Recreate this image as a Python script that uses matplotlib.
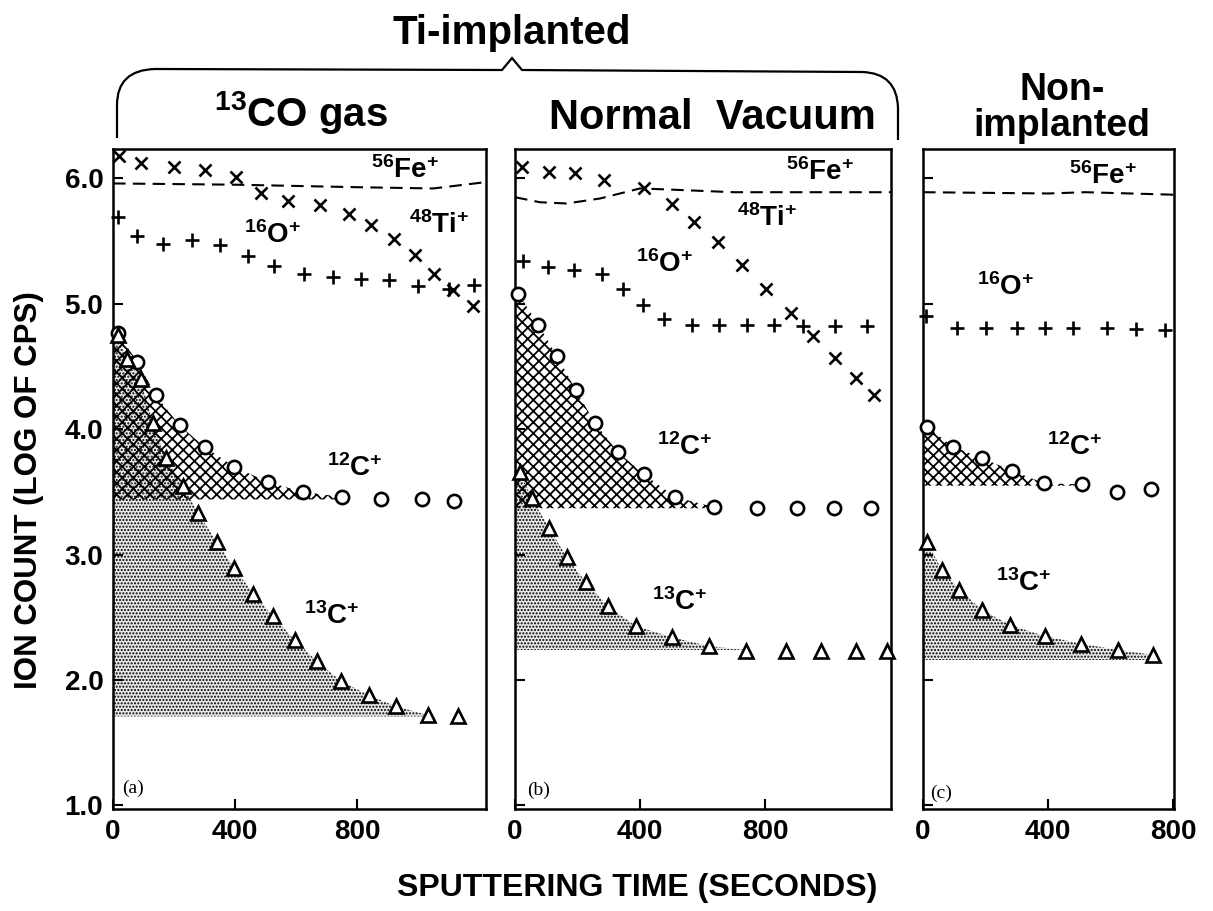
import matplotlib
matplotlib.use('Agg')
import matplotlib.pyplot as plt
from matplotlib.path import Path
from matplotlib.patches import PathPatch
import numpy as np

# values: time in seconds, ion count as log10(cps)

# (a) Ti-implanted, 13CO gas
ti_a_t = [20, 92, 200, 302, 403, 485, 573, 680, 775, 846, 922, 991, 1053, 1114, 1180]
ti_a_v = [6.18, 6.12, 6.09, 6.07, 6.01, 5.88, 5.82, 5.79, 5.72, 5.63, 5.52, 5.39, 5.24, 5.11, 4.98]
o_a_t = [15, 79, 165, 258, 352, 442, 529, 625, 720, 813, 906, 1001, 1103, 1184]
o_a_v = [5.69, 5.54, 5.48, 5.51, 5.47, 5.38, 5.30, 5.24, 5.21, 5.20, 5.19, 5.14, 5.12, 5.15]
c12_a_t = [15, 79, 141, 218, 300, 398, 507, 622, 750, 879, 1013, 1118]
c12_a_v = [4.77, 4.54, 4.27, 4.03, 3.86, 3.70, 3.58, 3.50, 3.46, 3.44, 3.44, 3.43]
c13_a_t = [15, 45, 90, 130, 175, 228, 279, 341, 398, 460, 524, 595, 669, 748, 838, 928, 1032, 1132]
c13_a_v = [4.75, 4.56, 4.40, 4.05, 3.77, 3.55, 3.33, 3.10, 2.89, 2.69, 2.51, 2.32, 2.15, 1.99, 1.88, 1.79, 1.72, 1.71]
fe_a_t = [0, 400, 800, 1050, 1220]
fe_a_v = [5.96, 5.95, 5.93, 5.92, 5.97]

# (b) Ti-implanted, normal vacuum
ti_b_t = [21, 110, 192, 285, 411, 501, 573, 648, 727, 802, 882, 953, 1024, 1091, 1149]
ti_b_v = [6.09, 6.05, 6.04, 5.99, 5.92, 5.80, 5.65, 5.49, 5.31, 5.12, 4.93, 4.74, 4.57, 4.41, 4.27]
o_b_t = [27, 107, 189, 277, 345, 409, 477, 565, 654, 741, 829, 921, 1024, 1125]
o_b_v = [5.34, 5.29, 5.27, 5.24, 5.12, 4.99, 4.88, 4.83, 4.83, 4.83, 4.83, 4.82, 4.82, 4.82]
c12_b_t = [11, 75, 135, 195, 256, 328, 413, 512, 635, 774, 902, 1019, 1139]
c12_b_v = [5.08, 4.83, 4.58, 4.31, 4.05, 3.82, 3.64, 3.46, 3.38, 3.37, 3.37, 3.37, 3.37]
c13_b_t = [16, 53, 110, 165, 227, 296, 387, 503, 622, 739, 867, 978, 1090, 1189]
c13_b_v = [3.66, 3.45, 3.21, 2.98, 2.78, 2.59, 2.43, 2.34, 2.27, 2.23, 2.23, 2.23, 2.23, 2.23]
fe_b_t = [0, 80, 165, 272, 400, 506, 700, 1203]
fe_b_v = [5.85, 5.81, 5.80, 5.84, 5.92, 5.91, 5.89, 5.89]

# (c) non-implanted
o_c_t = [10, 110, 202, 300, 390, 479, 590, 682, 774]
o_c_v = [4.90, 4.81, 4.81, 4.81, 4.81, 4.81, 4.81, 4.80, 4.79]
c12_c_t = [12, 97, 188, 284, 387, 508, 620, 729]
c12_c_v = [4.02, 3.86, 3.77, 3.67, 3.57, 3.56, 3.50, 3.52]
c13_c_t = [12, 60, 116, 188, 278, 390, 505, 625, 737]
c13_c_v = [3.10, 2.88, 2.72, 2.56, 2.44, 2.35, 2.29, 2.24, 2.20]
fe_c_t = [0, 400, 520, 803]
fe_c_v = [5.89, 5.88, 5.89, 5.87]

# background levels under the shaded areas
base12 = {'a': 3.44, 'b': 3.37, 'c': 3.55}
base13 = {'a': 1.71, 'b': 2.24, 'c': 2.16}

plt.rcParams['font.family'] = ['Liberation Sans', 'DejaVu Sans']
plt.rcParams['font.weight'] = 'bold'
plt.rcParams['mathtext.fontset'] = 'custom'
plt.rcParams['mathtext.rm'] = 'Liberation Sans:bold'
plt.rcParams['mathtext.it'] = 'Liberation Sans:bold'
plt.rcParams['mathtext.bf'] = 'Liberation Sans:bold'
plt.rcParams['mathtext.default'] = 'rm'

YLIM = (0.972, 6.235)
LBL = 20
STIPPLE = '#e8e8e8'


def shade(ax, t, v, base, n, hatch, lw, face='none'):
    """
    Shade between a profile (first n points) and its background level
    """
    tt = np.r_[0, t[:n]]
    vv = np.maximum(np.r_[v[0], v[:n]], base)
    with plt.rc_context({'hatch.linewidth': lw}):
        ax.fill_between(tt, vv, base, facecolor=face, edgecolor='black',
                        linewidth=0, hatch=hatch, zorder=1)


def points(ax, t, v, marker, ms):
    ax.plot(t, v, ls='none', marker=marker, ms=ms, mew=1.9, color='black',
            mfc='white', clip_on=False, zorder=3)


def setup(ax, xmax, letter, lt, lv, left_labels):
    ax.set_xlim(0, xmax)
    ax.set_ylim(*YLIM)
    ax.set_xticks([0, 400, 800])
    ax.set_yticks([1, 2, 3, 4, 5, 6])
    ax.set_yticklabels(['1.0', '2.0', '3.0', '4.0', '5.0', '6.0'])
    ax.tick_params(direction='in', length=7, width=1.5, labelsize=20,
                   pad=7, labelleft=left_labels)
    for s in ax.spines.values():
        s.set_linewidth(1.8)
    ax.text(lt, lv, '(' + letter + ')', family='Liberation Serif',
            fontweight='normal', fontsize=14, va='center')


fig = plt.figure(figsize=(12.13, 9.11), dpi=100)
bot, h = 0.112, 0.7245
ax_a = fig.add_axes([0.0932, bot, 0.3075, h])
ax_b = fig.add_axes([0.4246, bot, 0.310, h])
ax_c = fig.add_axes([0.761, bot, 0.2069, h])

# panel (a)
shade(ax_a, c13_a_t, c13_a_v, base13['a'], 17, '.....', 1.0, STIPPLE)
shade(ax_a, c12_a_t, c12_a_v, base12['a'], 9, 'xxx', 1.3)
ax_a.plot(fe_a_t, fe_a_v, ls=(0, (6, 3.5)), lw=1.5, color='black', zorder=2)
points(ax_a, ti_a_t, ti_a_v, 'x', 9)
points(ax_a, o_a_t, o_a_v, '+', 10)
points(ax_a, c12_a_t, c12_a_v, 'o', 9.5)
points(ax_a, c13_a_t, c13_a_v, '^', 9.5)
setup(ax_a, 1223, 'a', 30, 1.14, True)
ax_a.text(845, 6.07, r'$^{56}$Fe$^{+}$', fontsize=LBL, va='center')
ax_a.text(970, 5.63, r'$^{48}$Ti$^{+}$', fontsize=LBL, va='center')
ax_a.text(430, 5.55, r'$^{16}$O$^{+}$', fontsize=LBL, va='center')
ax_a.text(700, 3.69, r'$^{12}$C$^{+}$', fontsize=LBL, va='center')
ax_a.text(625, 2.51, r'$^{13}$C$^{+}$', fontsize=LBL, va='center')

# panel (b)
shade(ax_b, c13_b_t, c13_b_v, base13['b'], 10, '.....', 1.0, STIPPLE)
shade(ax_b, c12_b_t, c12_b_v, base12['b'], 9, 'xxx', 1.3)
ax_b.plot(fe_b_t, fe_b_v, ls=(0, (6, 3.5)), lw=1.5, color='black', zorder=2)
points(ax_b, ti_b_t, ti_b_v, 'x', 9)
points(ax_b, o_b_t, o_b_v, '+', 10)
points(ax_b, c12_b_t, c12_b_v, 'o', 9.5)
points(ax_b, c13_b_t, c13_b_v, '^', 9.5)
setup(ax_b, 1203, 'b', 38, 1.12, False)
ax_b.text(866, 6.05, r'$^{56}$Fe$^{+}$', fontsize=LBL, va='center')
ax_b.text(710, 5.68, r'$^{48}$Ti$^{+}$', fontsize=LBL, va='center')
ax_b.text(386, 5.32, r'$^{16}$O$^{+}$', fontsize=LBL, va='center')
ax_b.text(454, 3.86, r'$^{12}$C$^{+}$', fontsize=LBL, va='center')
ax_b.text(438, 2.62, r'$^{13}$C$^{+}$', fontsize=LBL, va='center')

# panel (c)
shade(ax_c, c13_c_t, c13_c_v, base13['c'], 9, '.....', 1.0, STIPPLE)
shade(ax_c, c12_c_t, c12_c_v, base12['c'], 6, 'xxx', 1.3)
ax_c.plot(fe_c_t, fe_c_v, ls=(0, (6, 3.5)), lw=1.5, color='black', zorder=2)
points(ax_c, o_c_t, o_c_v, '+', 10)
points(ax_c, c12_c_t, c12_c_v, 'o', 9.5)
points(ax_c, c13_c_t, c13_c_v, '^', 9.5)
setup(ax_c, 803, 'c', 22, 1.10, False)
ax_c.text(466, 6.02, r'$^{56}$Fe$^{+}$', fontsize=LBL, va='center')
ax_c.text(172, 5.13, r'$^{16}$O$^{+}$', fontsize=LBL, va='center')
ax_c.text(396, 3.86, r'$^{12}$C$^{+}$', fontsize=LBL, va='center')
ax_c.text(233, 2.77, r'$^{13}$C$^{+}$', fontsize=LBL, va='center')

# headings and the brace over the two implanted panels
W, H = 1213.0, 911.0
fig.text(512 / W, 1 - 33 / H, 'Ti-implanted', ha='center', va='center', fontsize=29)
fig.text(301 / W, 1 - 113 / H, r'$^{13}$CO gas', ha='center', va='center', fontsize=29)
fig.text(712 / W, 1 - 118 / H, 'Normal  Vacuum', ha='center', va='center', fontsize=30)
fig.text(1062 / W, 1 - 108 / H, 'Non-\nimplanted', ha='center', va='center',
         fontsize=27, linespacing=1.0, multialignment='center')

brace = [(117, 138), (117, 105), (117, 70), (155, 69), (502, 70), (512, 58),
         (522, 70), (862, 72), (897, 73), (898, 108), (898, 140)]
codes = [Path.MOVETO, Path.LINETO, Path.CURVE3, Path.CURVE3, Path.LINETO, Path.LINETO,
         Path.LINETO, Path.LINETO, Path.CURVE3, Path.CURVE3, Path.LINETO]
verts = [(x / W, 1 - y / H) for x, y in brace]
fig.patches.append(PathPatch(Path(verts, codes), transform=fig.transFigure,
                             facecolor='none', edgecolor='black', lw=1.6))

fig.text(0.024, 0.462, 'ION COUNT (LOG OF CPS)', rotation=90, ha='center',
         va='center', fontsize=22.5)
fig.text(0.525, 0.025, 'SPUTTERING TIME (SECONDS)', ha='center', va='center',
         fontsize=23)

fig.savefig('out.png', dpi=100)
